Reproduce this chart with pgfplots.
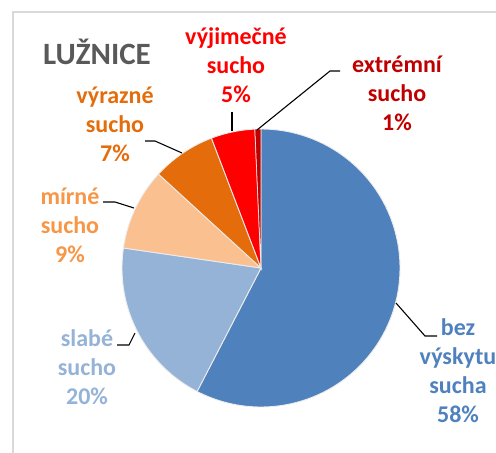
\documentclass[border=0pt]{standalone}
\usepackage{pgfplots}
\pgfplotsset{compat=1.18}
\usepackage{pgfplotstable}
\usepackage{fontspec}
\setmainfont{Carlito}
\definecolor{cBlue}{HTML}{4F81BD}
\definecolor{cLBlue}{HTML}{95B3D7}
\definecolor{cLOrange}{HTML}{FAC090}
\definecolor{cLOrangeT}{HTML}{F79646}
\definecolor{cOrange}{HTML}{E46C0A}
\definecolor{cRed}{HTML}{FF0000}
\definecolor{cDRed}{HTML}{C00000}
\definecolor{cTitle}{HTML}{595959}
\definecolor{cFrame}{HTML}{D9D9D9}
\tikzset{lbl/.style={align=center, font=\fontsize{24bp}{29bp}\selectfont\bfseries}}

% share of each drought class (%), clockwise from 12 o'clock
\pgfplotstableread{
value
57.6
19.7
9.5
7.4
5.1
0.7
}\piedata

\begin{document}
\begin{tikzpicture}
\pgfplotstablegetelem{0}{value}\of\piedata\pgfmathsetmacro\vA{\pgfplotsretval}
\pgfplotstablegetelem{1}{value}\of\piedata\pgfmathsetmacro\vB{\pgfplotsretval}
\pgfplotstablegetelem{2}{value}\of\piedata\pgfmathsetmacro\vC{\pgfplotsretval}
\pgfplotstablegetelem{3}{value}\of\piedata\pgfmathsetmacro\vD{\pgfplotsretval}
\pgfplotstablegetelem{4}{value}\of\piedata\pgfmathsetmacro\vE{\pgfplotsretval}
\pgfplotstablegetelem{5}{value}\of\piedata\pgfmathsetmacro\vF{\pgfplotsretval}
\pgfmathsetmacro\aA{90}
\pgfmathsetmacro\aB{\aA-3.6*\vA}
\pgfmathsetmacro\aC{\aB-3.6*\vB}
\pgfmathsetmacro\aD{\aC-3.6*\vC}
\pgfmathsetmacro\aE{\aD-3.6*\vD}
\pgfmathsetmacro\aF{\aE-3.6*\vE}
\pgfmathsetmacro\aG{\aF-3.6*\vF}
\begin{axis}[scale only axis, width=496bp, height=453bp,
  xmin=0, xmax=496, ymin=0, ymax=453, y dir=reverse,
  axis lines=none, clip=false]
% frame
\addplot[draw=cFrame, line width=1.5pt] coordinates {(13,453) (13,12) (496,12)};
% sectors
\addplot[fill=cBlue, draw=white!85!gray, line width=0.9pt, domain=\aB:\aA, samples=120, variable=\t]
  ({261+139*cos(\t)},{268-139*sin(\t)}) -- (261,268) -- cycle;
\addplot[fill=cLBlue, draw=white!85!gray, line width=0.9pt, domain=\aC:\aB, samples=50, variable=\t]
  ({261+139*cos(\t)},{268-139*sin(\t)}) -- (261,268) -- cycle;
\addplot[fill=cLOrange, draw=white!85!gray, line width=0.9pt, domain=\aD:\aC, samples=30, variable=\t]
  ({261+139*cos(\t)},{268-139*sin(\t)}) -- (261,268) -- cycle;
\addplot[fill=cOrange, draw=white!85!gray, line width=0.9pt, domain=\aE:\aD, samples=30, variable=\t]
  ({261+139*cos(\t)},{268-139*sin(\t)}) -- (261,268) -- cycle;
\addplot[fill=cRed, draw=white!85!gray, line width=0.9pt, domain=\aF:\aE, samples=30, variable=\t]
  ({261+139*cos(\t)},{268-139*sin(\t)}) -- (261,268) -- cycle;
\addplot[fill=cDRed, draw=white!85!gray, line width=0.6pt, domain=\aG:\aF, samples=10, variable=\t]
  ({261+139*cos(\t)},{268-139*sin(\t)}) -- (261,268) -- cycle;
% leader lines
\addplot[black, line width=1.1pt] coordinates {(232,112) (232,131)};
\addplot[black, line width=1.1pt] coordinates {(340,71) (330,71) (257,130)};
\addplot[black, line width=1.1pt] coordinates {(145,141) (155,141) (182,153)};
\addplot[black, line width=1.1pt] coordinates {(103,202) (115,202) (134,208)};
\addplot[black, line width=1.1pt] coordinates {(117,345) (129,345) (135,333)};
\addplot[black, line width=1.1pt] coordinates {(437,336) (425,336) (396,303)};
% labels
\node[lbl, text=cRed] at (axis cs:236,65) {výjimečné\\sucho\\5\%};
\node[lbl, text=cDRed] at (axis cs:397,93) {extrémní\\sucho\\1\%};
\node[lbl, text=cOrange] at (axis cs:115,124) {výrazné\\sucho\\7\%};
\node[lbl, text=cLOrangeT] at (axis cs:70,225) {mírné\\sucho\\9\%};
\node[lbl, text=cLBlue] at (axis cs:87,367) {slabé\\sucho\\20\%};
\node[lbl, text=cBlue] at (axis cs:458,371) {bez\\výskytu\\sucha\\58\%};
\node[font=\fontsize{31bp}{37bp}\selectfont\bfseries, text=cTitle] at (axis cs:97,52) {LUŽNICE};
\end{axis}
\pgfresetboundingbox
\useasboundingbox (0,0) rectangle (496bp,453bp);
\end{tikzpicture}
\end{document}
